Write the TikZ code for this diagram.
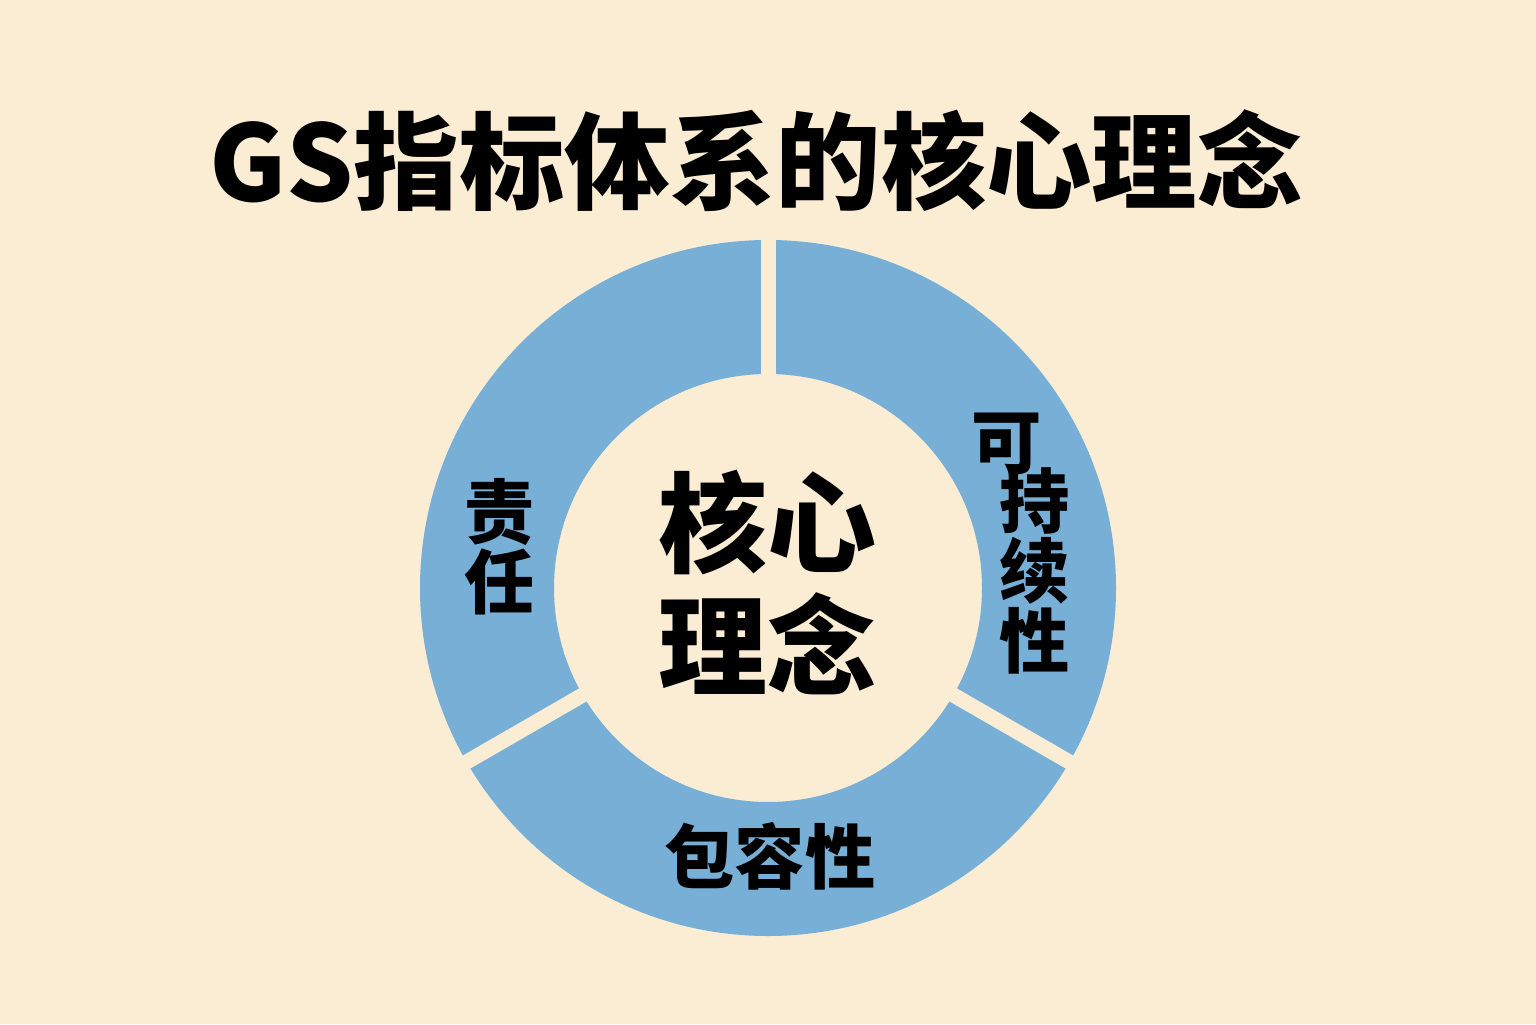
\documentclass[tikz,border=0pt]{standalone}
\usepackage{fontspec}
\newfontfamily\cjk{Noto Sans CJK SC}
\definecolor{paper}{RGB}{250,237,212}
\definecolor{ringblue}{RGB}{120,175,215}

\begin{document}
\begin{tikzpicture}[
	gap/.style={draw=paper, line width=0.15cm},
	label/.style={font=\cjk\bfseries\fontsize{20}{20}\selectfont, align=center, inner sep=0pt}]
	\fill[paper] (0,0) rectangle (15.36,10.24);
	\coordinate (c) at (7.68,4.36);

	\fill[ringblue, even odd rule] (c) circle (3.48) (c) circle (2.14);
	\draw[gap] (c) -- +(90:3.7);
	\draw[gap] (c) -- +(210:3.7);
	\draw[gap] (c) -- +(330:3.7);

	\node (title) at (7.56,8.63) {\cjk\bfseries\fontsize{30}{30}\selectfont GS指标体系的核心理念};
	\node[label, font=\cjk\bfseries\fontsize{31}{35}\selectfont] (core) at (7.67,4.42) {核心\\理念};
	\node[label] (duty) at (5.0,4.77) {责\\任};
	\node[label] (sust1) at (10.07,5.80) {可};
	\node[label] (sust2) at (10.35,4.53) {持\\续\\性};
	\node[label] (incl) at (7.70,1.68) {包容性};
\end{tikzpicture}
\end{document}
